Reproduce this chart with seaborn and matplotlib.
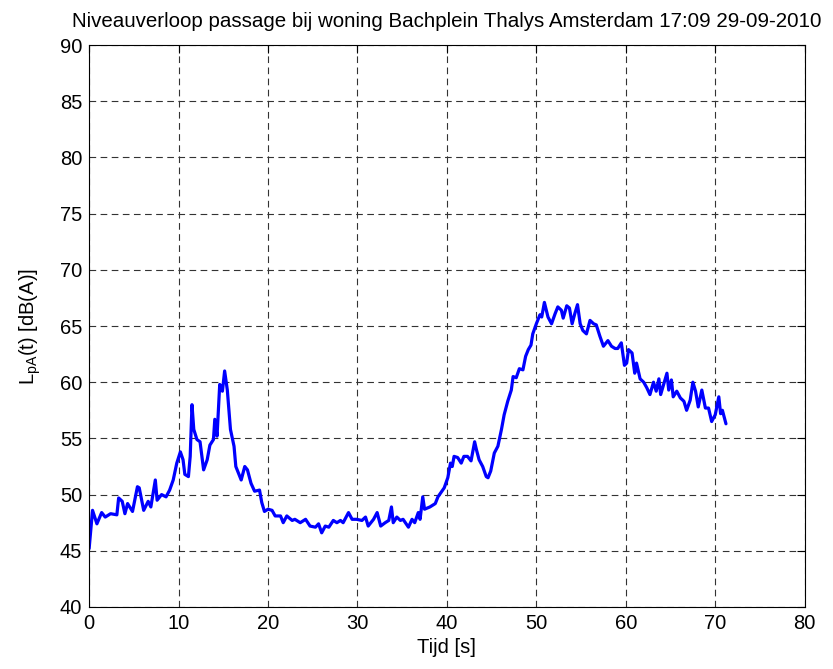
"""
Niveauverloop passage Thalys - Bachplein Amsterdam
LpA(t) tegen de tijd, afgelezen uit de meting
"""

import pandas as pd
import numpy as np
import matplotlib
matplotlib.use('Agg')
import matplotlib.pyplot as plt
import seaborn as sns

tijd = [
    0.0, 0.38, 0.87, 1.4, 1.8, 2.4, 3.1, 3.3, 3.7, 4.0, 4.3, 4.85, 5.4, 5.6, 6.1,
    6.6, 6.9, 7.4, 7.6, 8.1, 8.6, 9.0, 9.4, 9.8, 10.2, 10.5, 10.7, 11.1, 11.3,
    11.5, 11.7, 12.05, 12.4, 12.8, 13.2, 13.5, 13.9, 14.05, 14.3, 14.6, 14.9,
    15.15, 15.45, 15.8, 16.2, 16.4, 17.0, 17.4, 17.7, 18.1, 18.5, 19.05, 19.3,
    19.6, 20.0, 20.45, 20.8, 21.4, 21.7, 22.1, 22.7, 23.0, 23.6, 24.2, 24.7,
    25.3, 25.65, 26.0, 26.4, 26.8, 27.3, 27.7, 28.1, 28.4, 29.0, 29.4, 29.9,
    30.5, 30.9, 31.2, 31.8, 32.2, 32.6, 33.1, 33.5, 33.8, 34.0, 34.4, 34.8,
    35.1, 35.7, 36.1, 36.4, 36.8, 37.0, 37.3, 37.5, 38.1, 38.7, 39.0, 39.7,
    40.1, 40.4, 40.6, 40.8, 41.2, 41.6, 41.9, 42.3, 42.7, 43.1, 43.3, 43.6,
    44.0, 44.4, 44.6, 44.9, 45.3, 45.7, 46.1, 46.4, 46.8, 47.2, 47.4, 47.75,
    48.1, 48.5, 48.8, 49.1, 49.4, 49.6, 50.0, 50.4, 50.6, 50.9, 51.3, 51.7,
    52.1, 52.4, 52.8, 53.0, 53.4, 53.7, 54.0, 54.3, 54.6, 54.9, 55.2, 55.6,
    56.0, 56.4, 56.7, 57.1, 57.5, 58.0, 58.4, 58.8, 59.1, 59.5, 59.85, 60.1,
    60.3, 60.7, 61.0, 61.2, 61.6, 62.0, 62.35, 62.7, 63.1, 63.4, 63.7, 63.9,
    64.2, 64.6, 64.8, 65.1, 65.3, 65.7, 66.1, 66.5, 66.8, 67.2, 67.5, 67.8,
    68.1, 68.5, 68.9, 69.25, 69.6, 70.0, 70.4, 70.6, 70.8, 71.2,
]
lpa = [
    45.2, 48.6, 47.4, 48.4, 48.0, 48.3, 48.2, 49.7, 49.4, 48.3, 49.2, 48.5, 50.7,
    50.6, 48.6, 49.4, 48.9, 51.3, 49.5, 50.0, 49.8, 50.4, 51.3, 52.8, 53.8, 53.1,
    51.8, 51.6, 53.4, 58.0, 55.8, 54.9, 54.7, 52.2, 53.1, 54.4, 54.9, 56.7, 55.2,
    59.8, 59.2, 61.0, 59.3, 55.8, 54.3, 52.5, 51.3, 52.5, 52.2, 51.0, 50.3, 50.4,
    49.3, 48.5, 48.7, 48.6, 48.1, 48.1, 47.5, 48.1, 47.7, 47.8, 47.5, 47.8, 47.2,
    47.1, 47.4, 46.6, 47.2, 47.1, 47.7, 47.5, 47.7, 47.5, 48.4, 47.8, 47.8, 47.7,
    48.0, 47.2, 47.8, 48.4, 47.2, 47.5, 47.7, 48.9, 47.5, 48.0, 47.7, 47.8, 47.1,
    47.8, 47.5, 48.4, 47.8, 49.8, 48.7, 48.9, 49.2, 49.8, 50.6, 51.5, 52.8, 52.5,
    53.4, 53.3, 52.8, 53.4, 53.4, 53.0, 54.7, 54.0, 53.1, 52.5, 51.6, 51.5, 52.1,
    53.7, 54.3, 55.8, 57.1, 58.3, 59.3, 60.5, 60.4, 61.2, 61.1, 62.3, 62.9, 63.3,
    64.3, 65.2, 66.0, 65.8, 67.1, 65.8, 65.2, 66.1, 66.7, 66.4, 65.7, 66.8, 66.6,
    65.2, 66.1, 66.9, 65.2, 64.6, 64.3, 65.5, 65.2, 65.1, 64.1, 63.2, 63.7, 63.2,
    63.0, 63.0, 63.5, 61.5, 61.7, 62.9, 62.6, 60.8, 61.7, 60.3, 60.0, 59.5, 58.9,
    60.0, 59.2, 60.3, 58.9, 59.7, 60.8, 59.3, 60.2, 58.7, 59.2, 58.6, 58.3, 57.5,
    58.4, 60.0, 59.2, 57.8, 59.3, 57.7, 57.7, 56.5, 57.1, 58.7, 57.2, 57.5, 56.3,
]

x_ticks = [0, 10, 20, 30, 40, 50, 60, 70, 80]
y_ticks = [40, 45, 50, 55, 60, 65, 70, 75, 80, 85, 90]

df = pd.DataFrame({'Tijd': tijd, 'LpA': lpa})

sns.set_style('white')
plt.rcParams['font.family'] = ['Liberation Sans', 'DejaVu Sans']
plt.rcParams['text.color'] = 'black'
plt.rcParams['axes.labelcolor'] = 'black'

fig = plt.figure(figsize=(8.33, 6.69), dpi=100)
ax = fig.add_axes([0.107, 0.0927, 0.859, 0.840])

sns.lineplot(data=df, x='Tijd', y='LpA', ax=ax, color='#0000ff', linewidth=2.3)

ax.set_xlim(0, 80)
ax.set_ylim(40, 90)
ax.set_xticks(x_ticks)
ax.set_yticks(y_ticks)
ax.tick_params(direction='in', top=True, right=True, length=6, width=0.8,
               labelsize=14.5, colors='black', labelcolor='black', pad=5)
ax.grid(True, color='#333333', linestyle=(0, (6, 4)), linewidth=0.8)
for s in ax.spines.values():
    s.set_color('black')
    s.set_linewidth(0.8)

ax.set_title('Niveauverloop passage bij woning Bachplein Thalys Amsterdam 17:09 29-09-2010',
             fontsize=14.8, pad=13, color='black')
ax.set_xlabel('Tijd [s]', fontsize=14.5, labelpad=4, color='black')
ax.set_ylabel(r'L$\mathregular{_{pA}}$(t) [dB(A)]', fontsize=14.5, labelpad=12, color='black')

plt.savefig('out.png', dpi=100)
plt.close()
